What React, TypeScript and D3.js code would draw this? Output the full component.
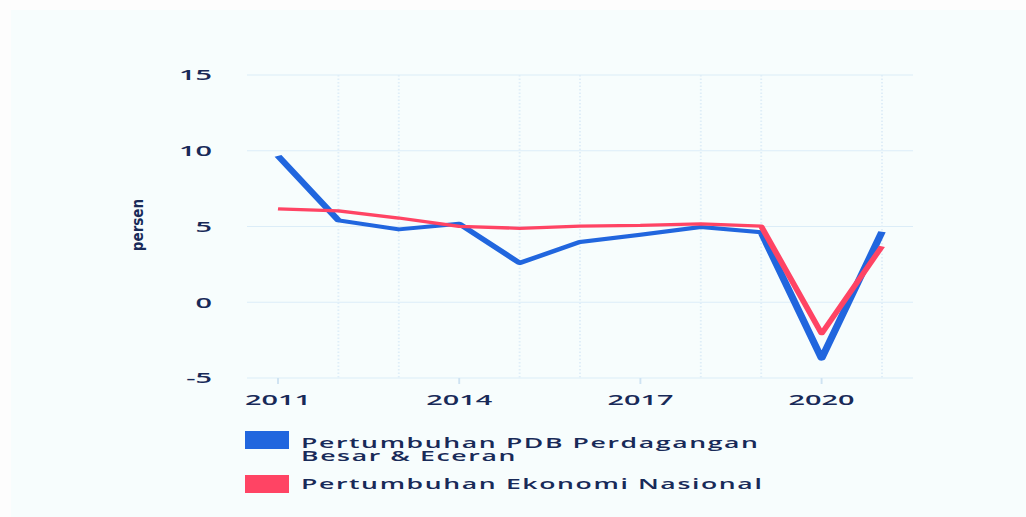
import React from "react";
import * as d3 from "d3";

const years = [2011, 2012, 2013, 2014, 2015, 2016, 2017, 2018, 2019, 2020, 2021];
const tradeGrowth = [9.66, 5.4, 4.81, 5.18, 2.59, 3.98, 4.46, 4.97, 4.62, -3.72, 4.65];
const nationalGrowth = [6.17, 6.03, 5.56, 5.01, 4.88, 5.03, 5.07, 5.17, 5.02, -2.07, 3.69];
const yTicks = [-5, 0, 5, 10, 15];
const xMajorTicks = [2011, 2014, 2017, 2020];
const seriesNames = ["Pertumbuhan PDB Perdagangan", "Besar & Eceran"];
const seriesName2 = "Pertumbuhan Ekonomi Nasional";
const yLabel = "persen";

const W = 1026;
const H = 517;
const S = 1.9; // horizontal stretch of the picture
const BLUE = "#2166de";
const RED = "#ff4464";
const TEXT = "#182a58";
const FONT = "'Open Sans', 'Noto Sans', sans-serif";

export default function App() {
  const x = d3.scaleLinear().domain([2011, 2021]).range([278 / S, 882 / S]);
  const y = d3.scaleLinear().domain([-5, 15]).range([378, 75]);
  const plotL = 247 / S;
  const plotR = 913 / S;

  const line = d3
    .line<number>()
    .x((_, i) => x(years[i]))
    .y((d) => y(d));

  const minorYears = years.filter((yr) => !xMajorTicks.includes(yr));

  return (
    <svg
      width={W}
      height={H}
      style={{ position: "absolute", left: 0, top: 0, background: "#fdfdfd" }}
    >
      <rect x={11} y={10} width={W - 11} height={H - 10} fill="#f7fdfd" />
      <g transform={`scale(${S},1)`}>
        {yTicks.map((t) => (
          <line
            key={"hg" + t}
            x1={plotL}
            x2={plotR}
            y1={y(t)}
            y2={y(t)}
            stroke="#dcedf8"
            strokeWidth={1.2}
          />
        ))}
        {minorYears.map((yr) => (
          <line
            key={"vg" + yr}
            x1={x(yr)}
            x2={x(yr)}
            y1={y(15)}
            y2={y(-5)}
            stroke="#dfeef8"
            strokeWidth={1}
            strokeDasharray="1.5,2"
          />
        ))}
        {xMajorTicks.map((yr) => (
          <line
            key={"tk" + yr}
            x1={x(yr)}
            x2={x(yr)}
            y1={y(-5)}
            y2={y(-5) + 6}
            stroke="#cfe3f2"
            strokeWidth={1}
          />
        ))}
        {yTicks.map((t) => (
          <text
            key={"yl" + t}
            x={212 / S}
            y={y(t)}
            dy="0.36em"
            textAnchor="end"
            fontFamily={FONT}
            fontSize={15.2}
            fontWeight={600}
            fill={TEXT}
          >
            {t}
          </text>
        ))}
        {xMajorTicks.map((yr) => (
          <text
            key={"xl" + yr}
            x={x(yr)}
            y={405}
            textAnchor="middle"
            fontFamily={FONT}
            fontSize={15.2}
            fontWeight={600}
            fill={TEXT}
          >
            {yr}
          </text>
        ))}
        <path
          d={line(tradeGrowth) || ""}
          fill="none"
          stroke={BLUE}
          strokeWidth={4}
          strokeLinejoin="round"
        />
        <path
          d={line(nationalGrowth) || ""}
          fill="none"
          stroke={RED}
          strokeWidth={3.3}
          strokeLinejoin="round"
        />
        <rect x={245 / S} y={431} width={44 / S} height={18} fill={BLUE} />
        <rect x={245 / S} y={475} width={44 / S} height={18} fill={RED} />
        <text fontFamily={FONT} fontSize={14} fontWeight={600} letterSpacing={0.85} fill={TEXT}>
          <tspan x={301 / S} y={448}>{seriesNames[0]}</tspan>
          <tspan x={301 / S} y={461.5}>{seriesNames[1]}</tspan>
        </text>
        <text x={301 / S} y={489.5} fontFamily={FONT} fontSize={14} fontWeight={600} letterSpacing={0.85} fill={TEXT}>
          {seriesName2}
        </text>
      </g>
      <text
        transform={`translate(143,225) rotate(-90)`}
        textAnchor="middle"
        fontFamily="'Liberation Sans Narrow', 'DejaVu Sans Condensed', sans-serif"
        fontWeight="bold"
        fontSize={15}
        fill={TEXT}
      >
        {yLabel}
      </text>
    </svg>
  );
}
